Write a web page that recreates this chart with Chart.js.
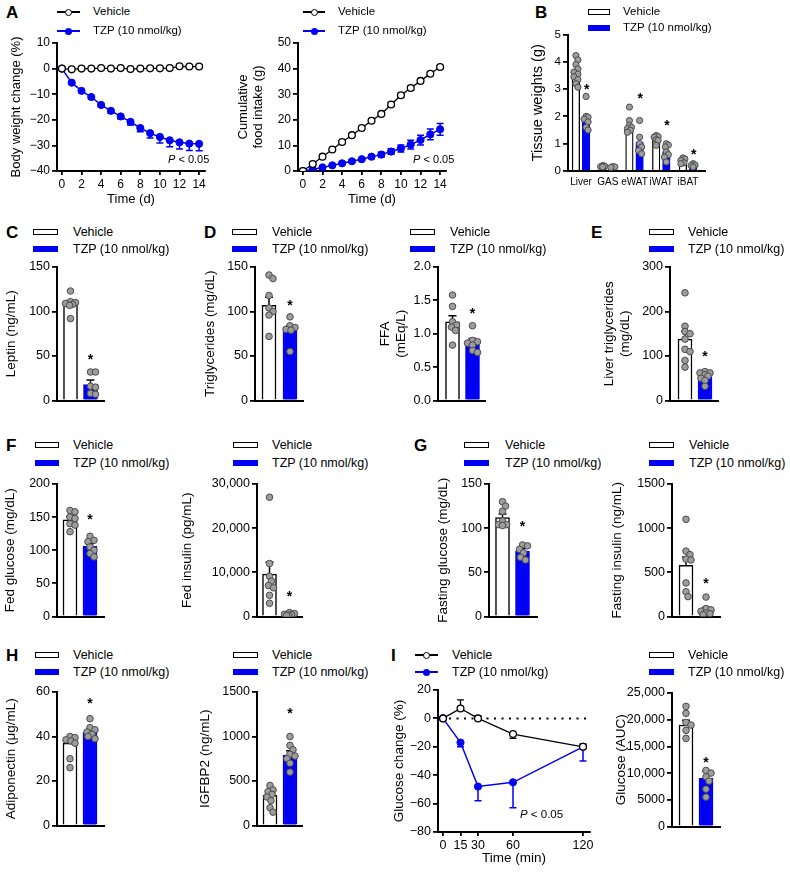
<!DOCTYPE html>
<html><head><meta charset="utf-8">
<script src="https://cdn.jsdelivr.net/npm/chart.js@4.4.1/dist/chart.umd.min.js"></script>
<style>
body{margin:0;width:790px;height:880px;background:#fff;position:relative;overflow:hidden;font-family:"Liberation Sans",Arial,Helvetica,sans-serif;color:#000;}
canvas{position:absolute;}
.t{position:absolute;white-space:nowrap;line-height:1;transform:translateY(-50%);}
.L{position:absolute;font-weight:bold;font-size:17px;line-height:1;transform:translateY(-50%);}
.sw{position:absolute;box-sizing:border-box;}
</style></head><body>
<script>
// ---------------- DATA ----------------
// A: body weight change (%)
const days = [0,1,2,3,4,5,6,7,8,9,10,11,12,13,14];
const bwVehicle = [0,-0.3,0,0,0.2,0,0.2,-0.2,0,0.1,0.1,0.2,0.9,0.8,0.8];
const bwVehicleSem = [0,0.2,0.2,0.2,0.2,0.2,0.2,0.2,0.2,0.2,0.2,0.2,0.3,0.3,0.3];
const bwTzp = [0,-5.5,-8.7,-11.1,-14.2,-16.5,-18.7,-20.8,-23.2,-25.2,-26.7,-28.0,-28.8,-29.3,-29.4];
const bwTzpSem = [0,0.5,0.6,0.7,0.8,0.9,1.0,1.2,1.5,1.9,2.4,2.5,2.6,2.7,2.7];
const bwYTicks = [-40,-30,-20,-10,0,10];
const bwYLabels = ['\u221240','\u221230','\u221220','\u221210','0','10'];
// A: cumulative food intake (g)
const foodVehicle = [0,2.7,5.6,8.4,11.3,14.0,16.8,19.6,22.3,26.0,29.6,32.4,35.2,38.0,40.6];
const foodVehicleSem = [0,0.2,0.3,0.3,0.4,0.4,0.4,0.5,0.5,0.6,0.8,0.8,0.7,0.6,0.6];
const foodTzp = [0,0.6,1.4,2.2,3.0,3.8,4.6,5.6,6.4,7.6,8.8,10.3,12.1,14.3,16.3];
const foodTzpSem = [0,0.2,0.3,0.4,0.5,0.5,0.6,0.7,0.9,1.1,1.4,1.7,1.9,2.1,2.3];
const foodYTicks = [0,10,20,30,40,50];
const dayTicks = [0,2,4,6,8,10,12,14];
// B: tissue weights (g)
const tissues = ['Liver','GAS','eWAT','iWAT','iBAT'];
const tissueVehicleMean = [3.6,0.17,1.6,1.17,0.38];
const tissueVehicleSem = [0.12,0.02,0.1,0.05,0.03];
const tissueTzpMean = [1.91,0.15,1.06,0.7,0.15];
const tissueTzpSem = [0.13,0.01,0.15,0.08,0.02];
const tissueVehiclePts = [[4.23,4.07,3.9,3.74,3.62,3.55,3.45,3.35,3.2,3.07],[0.2,0.18,0.16,0.15],[2.34,1.85,1.67,1.6,1.55,1.49,1.42],[1.3,1.26,1.24,1.15,1.12,0.94],[0.48,0.44,0.39,0.3,0.27]];
const tissueTzpPts = [[2.73,2.0,1.97,1.9,1.8,1.6,1.5],[0.16,0.15,0.13],[1.85,1.24,1.0,0.88,0.75,0.63],[1.0,0.95,0.88,0.7,0.6,0.51,0.33],[0.27,0.22,0.2,0.15]];
const tissueYTicks = [0,1,2,3,4,5];
// C: leptin (ng/mL)
const leptinMean = [109,18]; const leptinSem = [3.5,5];
const leptinVehiclePts = [123,111,110,109,108,107,92];
const leptinTzpPts = [32,32,16,15,8,7];
const leptinYTicks = [0,50,100,150];
// D: triglycerides (mg/dL), FFA (mEq/L)
const tgMean = [107,79]; const tgSem = [9,5];
const tgVehiclePts = [141,137,118,104,100,96,72];
const tgTzpPts = [94,84,82,80,79,55];
const tgYTicks = [0,50,100,150];
const ffaMean = [1.18,0.88]; const ffaSem = [0.09,0.05];
const ffaVehiclePts = [1.58,1.41,1.18,1.13,1.1,1.05,0.83];
const ffaTzpPts = [1.12,0.9,0.88,0.86,0.83,0.75,0.72];
const ffaYTicks = [0,0.5,1,1.5,2];
const ffaYLabels = ['0.0','0.5','1.0','1.5','2.0'];
// E: liver triglycerides (mg/dL)
const liverTgMean = [138,54]; const liverTgSem = [17,4];
const liverTgVehiclePts = [242,167,155,150,138,115,110,90,75];
const liverTgTzpPts = [65,62,62,58,55,50,45,32];
const liverTgYTicks = [0,100,200,300];
// F: fed glucose (mg/dL), fed insulin (pg/mL)
const fedGlucMean = [146,106]; const fedGlucSem = [5,4];
const fedGlucVehiclePts = [160,158,150,148,140,138,128];
const fedGlucTzpPts = [121,115,113,105,100,95,90];
const fedGlucYTicks = [0,50,100,150,200];
const fedInsMean = [9600,500]; const fedInsSem = [2700,120];
const fedInsVehiclePts = [27000,12000,9100,8000,7000,6500,4800,3000];
const fedInsTzpPts = [900,650,500,400,300,200];
const fedInsYTicks = [0,10000,20000,30000];
const fedInsYLabels = ['0','10,000','20,000','30,000'];
// G: fasting glucose (mg/dL), fasting insulin (ng/mL)
const fastGlucMean = [112,74]; const fastGlucSem = [4,3];
const fastGlucVehiclePts = [130,125,119,108,104,104,103];
const fastGlucTzpPts = [81,80,76,72,67,64];
const fastGlucYTicks = [0,50,100,150];
const fastInsMean = [580,75]; const fastInsSem = [95,28];
const fastInsVehiclePts = [1100,740,700,650,640,380,280,225];
const fastInsTzpPts = [220,90,75,60,40,30,20];
const fastInsYTicks = [0,500,1000,1500];
// H: adiponectin (ug/mL), IGFBP2 (ng/mL)
const adipoMean = [37,42]; const adipoSem = [2,1.2];
const adipoVehiclePts = [40,39.5,38.5,38,37,30,26];
const adipoTzpPts = [48,44,43,42,41,40,39];
const adipoYTicks = [0,20,40,60];
const igfMean = [340,790]; const igfSem = [40,50];
const igfVehiclePts = [450,400,380,350,320,280,200,150];
const igfTzpPts = [1000,900,850,800,780,750,700,600];
const igfYTicks = [0,500,1000,1500];
// I: glucose change (%) and AUC
const gttTimes = [0,15,30,60,120];
const gttVehicle = [0,7,0,-11,-20];
const gttVehicleErr = [0,6,2,3,2];
const gttTzp = [0,-17,-48,-45,-20];
const gttTzpErr = [0,3,10,18,10];
const gttYTicks = [-80,-60,-40,-20,0,20];
const gttYLabels = ['\u221280','\u221260','\u221240','\u221220','0','20'];
const aucMean = [19000,9000]; const aucSem = [900,1400];
const aucVehiclePts = [22500,21200,19500,19000,18000,16500];
const aucTzpPts = [10500,10000,9300,8500,7000,5500];
const aucYTicks = [0,5000,10000,15000,20000,25000];
const aucYLabels = ['0','5000','10,000','15,000','20,000','25,000'];

// ---------------- STYLE / HELPERS ----------------
const FF = '"Liberation Sans", Arial, Helvetica, sans-serif';
const BLUE = '#0000f5';
const DOT_FILL = '#9d9d9d';
const DOT_EDGE = '#4b4b4b';

function addText(html, x, y, size, extra) {
  const d = document.createElement('div');
  d.className = 't'; d.innerHTML = html;
  d.style.left = x + 'px'; d.style.top = y + 'px'; d.style.fontSize = size + 'px';
  if (extra) Object.assign(d.style, extra);
  document.body.appendChild(d); return d;
}
function addLetter(ch, x, y) {
  const d = document.createElement('div');
  d.className = 'L'; d.textContent = ch; d.style.left = x + 'px'; d.style.top = y + 'px';
  document.body.appendChild(d);
}
function addBox(x, y, w, h, style) {
  const d = document.createElement('div'); d.className = 'sw';
  Object.assign(d.style, {left: x + 'px', top: y + 'px', width: w + 'px', height: h + 'px'}, style);
  document.body.appendChild(d); return d;
}
function barLegend(swX, swW, txtX, y1, y2, fs) {
  addBox(swX, y1 - 3, swW, 6, {border: '1.5px solid #000', background: '#fff'});
  addText('Vehicle', txtX, y1, fs);
  addBox(swX, y2 - 3, swW, 6, {background: BLUE});
  addText('TZP (10 nmol/kg)', txtX, y2, fs);
}
function lineLegend(swX, swW, txtX, y1, y2, fs) {
  addBox(swX, y1 - 0.75, swW, 1.5, {background: '#000'});
  addBox(swX + swW / 2 - 3.5, y1 - 3.5, 7, 7, {border: '1.3px solid #000', background: '#fff', borderRadius: '50%'});
  addText('Vehicle', txtX, y1, fs);
  addBox(swX, y2 - 0.75, swW, 1.5, {background: BLUE});
  addBox(swX + swW / 2 - 3.5, y2 - 3.5, 7, 7, {background: BLUE, borderRadius: '50%'});
  addText('TZP (10 nmol/kg)', txtX, y2, fs);
}
function mkCanvas(l, t, w, h) {
  const c = document.createElement('canvas');
  c.width = w; c.height = h;
  Object.assign(c.style, {left: l + 'px', top: t + 'px', width: w + 'px', height: h + 'px'});
  document.body.appendChild(c); return c;
}
function valueAxis(min, max, ticks, labels, fs, title, tfs) {
  return {
    type: 'linear', min, max,
    afterBuildTicks: s => { s.ticks = ticks.map(v => ({value: v})); },
    ticks: {font: {family: FF, size: fs}, color: '#000', padding: 2,
      callback: (v, i) => labels ? labels[i] : String(ticks[i])},
    grid: {display: true, drawOnChartArea: false, drawTicks: true, tickLength: 5, color: '#000', lineWidth: 1.8},
    border: {display: true, color: '#000', width: 2},
    title: {display: true, text: title, color: '#000', padding: 0, font: {family: FF, size: tfs, lineHeight: 1.15}}
  };
}
// beeswarm offsets limited to the bar width (pixel space -> data units)
function swarm(vals, center, uxPerPx, uyPerPx, dmin, maxOff) {
  const placed = [], out = [];
  const cands = [0];
  for (let o = 1; o <= maxOff + 1e-6; o += 1) cands.push(o, -o);
  const order = vals.map((v, i) => i).sort((a, b) => vals[b] - vals[a]);
  for (const i of order) {
    const py = vals[i] / uyPerPx;
    let best = null, bestD = -1;
    for (const ox of cands) {
      const d = placed.length ? Math.min(...placed.map(p => Math.hypot(p.ox - ox, p.py - py))) : Infinity;
      if (d >= dmin) { best = ox; break; }
      if (d > bestD + 0.5) { bestD = d; best = ox; }
    }
    placed.push({ox: best, py});
    out.push({x: center + best * uxPerPx, y: vals[i]});
  }
  return out;
}
// plugin: error bars + significance stars, drawn via chart scales
function annotPlugin(errs, stars, afterIndex, zeroLine) {
  return {
    id: 'annot',
    beforeDatasetsDraw(chart) {
      const {x: xs, y: ys} = chart.scales; const ctx = chart.ctx;
      if (zeroLine) {
        ctx.save(); ctx.strokeStyle = '#000'; ctx.lineWidth = 2; ctx.setLineDash([2, 5.5]);
        const py = ys.getPixelForValue(0);
        ctx.beginPath(); ctx.moveTo(xs.getPixelForValue(0) + 6, py); ctx.lineTo(chart.chartArea.right, py); ctx.stroke();
        ctx.restore();
      }
      if (afterIndex === -1) drawErrs(chart);
    },
    afterDatasetDraw(chart, args) { if (args.index === afterIndex) drawErrs(chart); },
    afterDatasetsDraw(chart) {
      const {x: xs, y: ys} = chart.scales; const ctx = chart.ctx;
      ctx.save(); ctx.fillStyle = '#000'; ctx.font = 'bold 14px ' + FF; ctx.textAlign = 'center'; ctx.textBaseline = 'alphabetic';
      for (const s of stars) ctx.fillText('*', xs.getPixelForValue(s.x), ys.getPixelForValue(s.y) + 8);
      ctx.restore();
    }
  };
  function drawErrs(chart) {
    const {x: xs, y: ys} = chart.scales; const ctx = chart.ctx;
    ctx.save();
    for (const e of errs) {
      if (!e.sem) continue;
      const px = xs.getPixelForValue(e.x);
      const ends = [];
      if (e.dir === 1) ends.push(e.y + e.sem);
      else if (e.dir === -1) ends.push(e.y - e.sem);
      else ends.push(e.y + e.sem, e.y - e.sem);
      ctx.strokeStyle = e.color; ctx.lineWidth = e.lw || 1.5;
      ctx.beginPath();
      for (const v of ends) {
        const pv = ys.getPixelForValue(v);
        ctx.moveTo(px, ys.getPixelForValue(e.y)); ctx.lineTo(px, pv);
        ctx.moveTo(px - e.cap, pv); ctx.lineTo(px + e.cap, pv);
      }
      ctx.stroke();
    }
    ctx.restore();
  }
}
function baseOptions(g, left, top, right, bottom) {
  return {
    responsive: false, animation: false, devicePixelRatio: 1,
    layout: {padding: {left: 0, top: g.y0 - top, right: right - g.x1, bottom: bottom - (g.y1 + g.xh)}},
    plugins: {legend: {display: false}, tooltip: {enabled: false}}
  };
}
function frame(g) {
  const left = Math.round(g.titleX - 7.5);
  const top = Math.floor(g.y0 - 12);
  const right = Math.ceil(g.x1 + 16);
  const bottom = Math.ceil(g.y1 + g.xh + 3);
  return {left, top, right, bottom, canvas: mkCanvas(left, top, right - left, bottom - top)};
}

// two-group bar + dot panel
function twoBar(g, c) {
  g.xh = 0;
  const f = frame(g);
  const ppu = g.c1 - g.c0;
  const xmin = (g.x0 - g.c0) / ppu, xmax = 1 + (g.x1 - g.c1) / ppu;
  const ux = 1 / ppu, uy = (c.yMax - c.yMin) / (g.y1 - g.y0);
  const pts = swarm(c.vPts, 0, ux, uy, 5.2, 5).concat(swarm(c.tPts, 1, ux, uy, 5.2, 5));
  const opts = baseOptions(g, f.left, f.top, f.right, f.bottom);
  opts.scales = {
    x: {type: 'linear', min: xmin, max: xmax, offset: false, display: true,
      ticks: {display: false}, grid: {display: false, offset: false}, border: {display: true, color: '#000', width: 2},
      afterFit: s => { s.height = 0; }},
    y: Object.assign(valueAxis(c.yMin, c.yMax, c.yTicks, c.yLabels, c.fs || 12.5, c.title, c.tfs || 13.5),
      {afterFit: s => { s.width = g.x0 - f.left; }})
  };
  const errs = [
    {x: 0, y: c.mean[0], sem: c.sem[0], dir: 1, color: '#000', cap: 4},
    {x: 1, y: c.mean[1], sem: c.sem[1], dir: 1, color: '#000', cap: 4}
  ];
  new Chart(f.canvas, {
    type: 'bar',
    data: {datasets: [
      {type: 'scatter', data: pts, order: 0, pointRadius: 3.3, pointBackgroundColor: DOT_FILL, pointBorderColor: DOT_EDGE, pointBorderWidth: 1},
      {type: 'bar', data: [{x: 0, y: c.mean[0]}, {x: 1, y: c.mean[1]}], order: 1, barThickness: g.bw || 14,
        backgroundColor: ['#fff', BLUE], borderColor: ['#000', BLUE], borderWidth: 1.5, borderSkipped: 'bottom'}
    ]},
    options: opts,
    plugins: [annotPlugin(errs, [{x: 1, y: c.star}], 1, false)]
  });
}

// ---------------- PANEL A (line charts) ----------------
function lineChart(g, c) {
  const f = frame(g);
  const opts = baseOptions(g, f.left, f.top, f.right, f.bottom);
  const xa = valueAxis(c.xMin, c.xMax, c.xTicks, null, c.fs, c.xTitle, c.tfs);
  xa.grid.tickLength = 4; xa.ticks.padding = 2;
  xa.afterFit = s => { s.height = g.xh; };
  opts.scales = {
    x: xa,
    y: Object.assign(valueAxis(c.yMin, c.yMax, c.yTicks, c.yLabels, c.fs, c.title, c.tfs), {afterFit: s => { s.width = g.x0 - f.left; }})
  };
  const toXY = (ys) => c.xs.map((x, i) => ({x, y: ys[i]}));
  const errs = [];
  c.xs.forEach((x, i) => {
    errs.push({x, y: c.v[i], sem: c.vErr[i], dir: c.vDir(i), color: '#000', cap: 3.5, lw: 1.3});
    errs.push({x, y: c.t[i], sem: c.tErr[i], dir: c.tDir(i), color: BLUE, cap: 3.5, lw: 1.5});
  });
  new Chart(f.canvas, {
    type: 'line',
    data: {datasets: [
      {data: toXY(c.v), borderColor: '#000', borderWidth: 1.3, pointRadius: 3.4, pointBackgroundColor: '#fff', pointBorderColor: '#000', pointBorderWidth: 1.3, tension: 0},
      {data: toXY(c.t), borderColor: BLUE, borderWidth: 1.5, pointRadius: 3.6, pointBackgroundColor: BLUE, pointBorderColor: BLUE, pointBorderWidth: 1, tension: 0}
    ]},
    options: opts,
    plugins: [annotPlugin(errs, [], -1, !!c.zeroLine)]
  });
}

// A left
lineChart({x0: 57, x1: 205, y0: 43, y1: 171, titleX: 16, xh: 36},
  {xs: days, v: bwVehicle, vErr: bwVehicleSem, t: bwTzp, tErr: bwTzpSem, vDir: () => 1, tDir: () => -1,
   xMin: -0.5, xMax: 14.6, xTicks: dayTicks, xTitle: 'Time (d)', yMin: -40, yMax: 10, yTicks: bwYTicks, yLabels: bwYLabels,
   title: 'Body weight change (%)', fs: 12, tfs: 13});
// A right
lineChart({x0: 298, x1: 446, y0: 43, y1: 171, titleX: 243, xh: 36},
  {xs: days, v: foodVehicle, vErr: foodVehicleSem, t: foodTzp, tErr: foodTzpSem, vDir: () => 0, tDir: () => 0,
   xMin: -0.5, xMax: 14.6, xTicks: dayTicks, xTitle: 'Time (d)', yMin: 0, yMax: 50, yTicks: foodYTicks, yLabels: null,
   title: ['Cumulative', 'food intake (g)'], fs: 12, tfs: 13});

// ---------------- PANEL B (grouped bars) ----------------
(function () {
  const g = {x0: 568, x1: 705, y0: 34.5, y1: 171, titleX: 537, xh: 20};
  const f = frame(g);
  const ppu = 26.75, c0 = 581, off = 0.19;
  const xmin = (g.x0 - c0) / ppu, xmax = (g.x1 - c0) / ppu;
  const ux = 1 / ppu, uy = 5 / (g.y1 - g.y0);
  let pts = [];
  tissues.forEach((t, i) => {
    pts = pts.concat(swarm(tissueVehiclePts[i], i - off, ux, uy, 4.5, 2.5), swarm(tissueTzpPts[i], i + off, ux, uy, 4.5, 2.5));
  });
  const opts = baseOptions(g, f.left, f.top, f.right, f.bottom);
  const tickIdx = tissues.map((t, i) => i);
  opts.scales = {
    x: {type: 'linear', min: xmin, max: xmax, offset: false,
      afterBuildTicks: s => { s.ticks = tickIdx.map(v => ({value: v})); },
      ticks: {font: {family: FF, size: 10}, color: '#000', padding: 5, maxRotation: 0, autoSkip: false, callback: (v, i) => tissues[i]},
      grid: {display: true, drawOnChartArea: false, drawTicks: false, offset: false}, border: {display: true, color: '#000', width: 2},
      afterFit: s => { s.height = g.xh; }},
    y: Object.assign(valueAxis(0, 5, tissueYTicks, null, 11.5, 'Tissue weights (g)', 14.5), {afterFit: s => { s.width = g.x0 - f.left; }})
  };
  const bars = [], colors = [];
  tissues.forEach((t, i) => {
    bars.push({x: i - off, y: tissueVehicleMean[i]}); colors.push('v');
    bars.push({x: i + off, y: tissueTzpMean[i]}); colors.push('t');
  });
  const errs = [];
  tissues.forEach((t, i) => {
    errs.push({x: i - off, y: tissueVehicleMean[i], sem: tissueVehicleSem[i], dir: 1, color: '#000', cap: 2.5, lw: 1.2});
    errs.push({x: i + off, y: tissueTzpMean[i], sem: tissueTzpSem[i], dir: 1, color: '#000', cap: 2.5, lw: 1.2});
  });
  const starY = [3.13, null, 2.77, 1.79, 0.73];
  const stars = [];
  starY.forEach((y, i) => { if (y !== null) stars.push({x: i + off + 0.02, y}); });
  new Chart(f.canvas, {
    type: 'bar',
    data: {datasets: [
      {type: 'scatter', data: pts, order: 0, pointRadius: 3.1, pointBackgroundColor: DOT_FILL, pointBorderColor: DOT_EDGE, pointBorderWidth: 1},
      {type: 'bar', data: bars, order: 1, barThickness: 7.5,
        backgroundColor: colors.map(k => k === 'v' ? '#fff' : BLUE), borderColor: colors.map(k => k === 'v' ? '#000' : BLUE), borderWidth: 1.3, borderSkipped: 'bottom'}
    ]},
    options: opts,
    plugins: [annotPlugin(errs, stars, 1, false)]
  });
})();

// ---------------- BAR PANELS C-I ----------------
const R2 = {y0: 267, y1: 407}, R3 = {y0: 484, y1: 623}, R4 = {y0: 692, y1: 832};
twoBar(Object.assign({x0: 57, x1: 104, c0: 70.5, c1: 90.5, titleX: 11}, R2),
  {title: 'Leptin (ng/mL)', yMin: 0, yMax: 150, yTicks: leptinYTicks, mean: leptinMean, sem: leptinSem, vPts: leptinVehiclePts, tPts: leptinTzpPts, star: 50});
twoBar(Object.assign({x0: 255, x1: 303, c0: 269, c1: 290, titleX: 210}, R2),
  {title: 'Triglycerides (mg/dL)', yMin: 0, yMax: 150, yTicks: tgYTicks, mean: tgMean, sem: tgSem, vPts: tgVehiclePts, tPts: tgTzpPts, star: 111});
twoBar(Object.assign({x0: 438, x1: 485, c0: 452.5, c1: 472.5, titleX: 385}, R2),
  {title: ['FFA', '(mEq/L)'], yMin: 0, yMax: 2, yTicks: ffaYTicks, yLabels: ffaYLabels, mean: ffaMean, sem: ffaSem, vPts: ffaVehiclePts, tPts: ffaTzpPts, star: 1.35});
twoBar(Object.assign({x0: 670, x1: 718, c0: 685, c1: 705, titleX: 609}, R2),
  {title: ['Liver triglycerides', '(mg/dL)'], yMin: 0, yMax: 300, yTicks: liverTgYTicks, mean: liverTgMean, sem: liverTgSem, vPts: liverTgVehiclePts, tPts: liverTgTzpPts, star: 107});
twoBar(Object.assign({x0: 57, x1: 104, c0: 70, c1: 90, titleX: 10}, R3),
  {title: 'Fed glucose (mg/dL)', yMin: 0, yMax: 200, yTicks: fedGlucYTicks, mean: fedGlucMean, sem: fedGlucSem, vPts: fedGlucVehiclePts, tPts: fedGlucTzpPts, star: 152});
twoBar(Object.assign({x0: 257, x1: 302, c0: 269.5, c1: 289.5, titleX: 187}, R3),
  {title: 'Fed insulin (pg/mL)', yMin: 0, yMax: 30000, yTicks: fedInsYTicks, yLabels: fedInsYLabels, mean: fedInsMean, sem: fedInsSem, vPts: fedInsVehiclePts, tPts: fedInsTzpPts, star: 5400});
twoBar(Object.assign({x0: 489, x1: 537, c0: 502.5, c1: 522.5, titleX: 443}, R3),
  {title: 'Fasting glucose (mg/dL)', yMin: 0, yMax: 150, yTicks: fastGlucYTicks, mean: fastGlucMean, sem: fastGlucSem, vPts: fastGlucVehiclePts, tPts: fastGlucTzpPts, star: 106});
twoBar(Object.assign({x0: 672, x1: 720, c0: 686, c1: 706, titleX: 617}, R3),
  {title: 'Fasting insulin (ng/mL)', yMin: 0, yMax: 1500, yTicks: fastInsYTicks, mean: fastInsMean, sem: fastInsSem, vPts: fastInsVehiclePts, tPts: fastInsTzpPts, star: 418});
twoBar(Object.assign({x0: 57, x1: 104, c0: 70, c1: 90, titleX: 11}, R4),
  {title: 'Adiponectin (\u03bcg/mL)', yMin: 0, yMax: 60, yTicks: adipoYTicks, mean: adipoMean, sem: adipoSem, vPts: adipoVehiclePts, tPts: adipoTzpPts, star: 56.6});
twoBar(Object.assign({x0: 257, x1: 302, c0: 270, c1: 290, titleX: 205}, R4),
  {title: 'IGFBP2 (ng/mL)', yMin: 0, yMax: 1500, yTicks: igfYTicks, mean: igfMean, sem: igfSem, vPts: igfVehiclePts, tPts: igfTzpPts, star: 1300});
twoBar({x0: 672, x1: 720, c0: 686, c1: 706, titleX: 621, y0: 693, y1: 833},
  {title: 'Glucose (AUC)', yMin: 0, yMax: 25000, yTicks: aucYTicks, yLabels: aucYLabels, mean: aucMean, sem: aucSem, vPts: aucVehiclePts, tPts: aucTzpPts, star: 12600});
// I left: glucose change line chart
lineChart({x0: 438, x1: 590, y0: 690, y1: 832, titleX: 399, xh: 34},
  {xs: gttTimes, v: gttVehicle, vErr: gttVehicleErr, t: gttTzp, tErr: gttTzpErr,
   vDir: i => (i === 3 ? -1 : 1), tDir: i => -1,
   xMin: -4.3, xMax: 126, xTicks: gttTimes, xTitle: 'Time (min)', yMin: -80, yMax: 20, yTicks: gttYTicks, yLabels: gttYLabels,
   title: 'Glucose change (%)', fs: 12.5, tfs: 13.5, zeroLine: true});

// ---------------- LETTERS, LEGENDS, NOTES ----------------
addLetter('A', 6, 12); addLetter('B', 535, 12); addLetter('C', 6, 232); addLetter('D', 204, 232); addLetter('E', 591, 232);
addLetter('F', 6, 445); addLetter('G', 414, 445); addLetter('H', 6, 655); addLetter('I', 391, 655);
lineLegend(57, 23, 93, 12, 31, 11.5);
lineLegend(303, 22, 338, 12, 31, 11.5);
barLegend(588, 22, 623, 12, 28, 11.5);
barLegend(33, 25, 73, 232, 249, 12.5);
barLegend(232, 25, 272, 232, 249, 12.5);
barLegend(410, 25, 450, 232, 249, 12.5);
barLegend(649, 25, 688, 232, 249, 12.5);
barLegend(35, 24, 73, 445, 463, 12.5);
barLegend(233, 25, 272, 445, 463, 12.5);
barLegend(464, 25, 505, 445, 463, 12.5);
barLegend(649, 25, 689, 445, 463, 12.5);
barLegend(35, 24, 73, 655, 672, 12.5);
barLegend(233, 25, 272, 655, 672, 12.5);
lineLegend(415, 23, 452, 655, 672, 12.5);
barLegend(649, 25, 688, 655, 672, 12.5);
addText('<i>P</i> &lt; 0.05', 168, 159, 11);
addText('<i>P</i> &lt; 0.05', 413, 159, 11);
addText('<i>P</i> &lt; 0.05', 520, 815, 11.5);
</script></body></html>
